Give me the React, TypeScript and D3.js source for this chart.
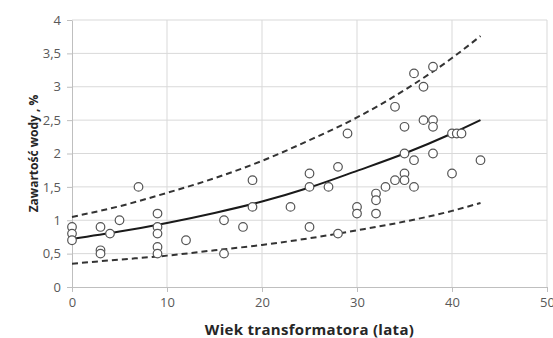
import React, { useEffect, useRef } from 'react';
import * as d3 from 'd3';

// measured points (age in years, water content in %)
const ages = [
    0, 0, 0, 3, 3, 3, 4, 5, 7, 9, 9, 9, 9, 9, 12, 16, 16, 18, 19, 19, 23,
    25, 25, 25, 27, 28, 28, 29, 30, 30, 32, 32, 32, 33, 34, 34,
    35, 35, 35, 35, 36, 36, 36, 37, 37, 38, 38, 38, 38, 40, 40, 40.5, 41, 43
];
const water = [
    0.9, 0.8, 0.7, 0.9, 0.55, 0.5, 0.8, 1.0, 1.5, 1.1, 0.9, 0.8, 0.6, 0.5, 0.7, 1.0, 0.5, 0.9, 1.6, 1.2, 1.2,
    1.7, 1.5, 0.9, 1.5, 1.8, 0.8, 2.3, 1.2, 1.1, 1.4, 1.3, 1.1, 1.5, 2.7, 1.6,
    2.4, 2.0, 1.7, 1.6, 3.2, 1.9, 1.5, 3.0, 2.5, 3.3, 2.5, 2.4, 2.0, 2.3, 1.7, 2.3, 2.3, 1.9
];

// trend curve and band
const fitX = [0, 5, 10, 15, 20, 25, 30, 35, 40, 43];
const fitMid = [0.72, 0.83, 0.96, 1.11, 1.28, 1.49, 1.74, 2.0, 2.3, 2.5];
const fitUpper = [1.05, 1.21, 1.41, 1.63, 1.89, 2.2, 2.54, 2.95, 3.43, 3.76];
const fitLower = [0.35, 0.41, 0.47, 0.55, 0.63, 0.73, 0.85, 0.98, 1.14, 1.26];

const xTicks = [0, 10, 20, 30, 40, 50];
const yTicks = [0, 0.5, 1, 1.5, 2, 2.5, 3, 3.5, 4];

const W = 553;
const H = 338;

const App = () => {
    const svgRef = useRef<SVGSVGElement>(null);

    useEffect(() => {
        const margin = { top: 20, right: 6, bottom: 51, left: 72 };
        const width = W - margin.left - margin.right;
        const height = H - margin.top - margin.bottom;

        const svg = d3.select(svgRef.current)
            .attr('width', W)
            .attr('height', H);

        svg.selectAll('*').remove();

        const g = svg.append('g')
            .attr('transform', `translate(${margin.left},${margin.top})`);

        const x = d3.scaleLinear().domain([0, 50]).range([0, width]);
        const y = d3.scaleLinear().domain([0, 4]).range([height, 0]);

        // grid
        g.append('g')
            .selectAll('line')
            .data(yTicks.slice(1))
            .join('line')
            .attr('x1', 0).attr('x2', width)
            .attr('y1', d => y(d)).attr('y2', d => y(d))
            .attr('stroke', '#d9d9d9');
        g.append('g')
            .selectAll('line')
            .data(xTicks.slice(1))
            .join('line')
            .attr('x1', d => x(d)).attr('x2', d => x(d))
            .attr('y1', 0).attr('y2', height)
            .attr('stroke', '#d9d9d9');

        const fmt = (d: number) => String(d).replace('.', ',');

        const xAxis = g.append('g')
            .attr('transform', `translate(0,${height})`)
            .call(d3.axisBottom(x).tickValues(xTicks).tickSizeInner(5).tickSizeOuter(0).tickPadding(6).tickFormat(d => fmt(+d)));
        const yAxis = g.append('g')
            .call(d3.axisLeft(y).tickValues(yTicks).tickSizeInner(5).tickSizeOuter(0).tickPadding(6).tickFormat(d => fmt(+d)));

        [xAxis, yAxis].forEach(a => {
            a.select('.domain').attr('stroke', '#bfbfbf');
            a.selectAll('.tick line').attr('stroke', '#bfbfbf');
            a.selectAll('.tick text')
                .attr('fill', '#595959')
                .style('font-family', '"Open Sans", sans-serif')
                .style('font-size', '13px');
        });

        const fitData = fitX.map((d, i) => ({ x: d, mid: fitMid[i], up: fitUpper[i], lo: fitLower[i] }));
        const lineOf = (key: 'mid' | 'up' | 'lo') => d3.line<any>()
            .x(d => x(d.x))
            .y(d => y(d[key]))
            .curve(d3.curveMonotoneX);

        g.append('path')
            .datum(fitData)
            .attr('fill', 'none')
            .attr('stroke', '#1a1a1a')
            .attr('stroke-width', 2)
            .attr('d', lineOf('mid'));

        ['up', 'lo'].forEach(k => {
            g.append('path')
                .datum(fitData)
                .attr('fill', 'none')
                .attr('stroke', '#333')
                .attr('stroke-width', 2)
                .attr('stroke-dasharray', '6,4')
                .attr('d', lineOf(k as 'up' | 'lo'));
        });

        g.append('g')
            .selectAll('circle')
            .data(ages.map((a, i) => ({ a, w: water[i] })))
            .join('circle')
            .attr('cx', d => x(d.a))
            .attr('cy', d => y(d.w))
            .attr('r', 4.3)
            .attr('fill', 'white')
            .attr('stroke', '#555')
            .attr('stroke-width', 1.2);

        svg.append('text')
            .attr('x', margin.left + width / 2)
            .attr('y', 331)
            .attr('text-anchor', 'middle')
            .attr('dominant-baseline', 'middle')
            .style('font-family', '"Open Sans", sans-serif')
            .style('font-size', '15px')
            .style('font-weight', 'bold')
            .style('letter-spacing', '0.3px')
            .attr('fill', '#262626')
            .text('Wiek transformatora (lata)');

        svg.append('text')
            .attr('transform', `translate(35,${margin.top + height / 2}) rotate(-90)`)
            .attr('text-anchor', 'middle')
            .attr('dominant-baseline', 'middle')
            .style('font-family', '"Open Sans", sans-serif')
            .style('font-size', '12px')
            .style('font-weight', 'bold')
            .attr('fill', '#262626')
            .text('Zawartość wody , %');
    }, []);

    return (
        <div style={{ position: 'absolute', left: 0, top: 0 }}>
            <svg ref={svgRef} style={{ display: 'block', background: 'white' }}></svg>
        </div>
    );
};

export default App;
